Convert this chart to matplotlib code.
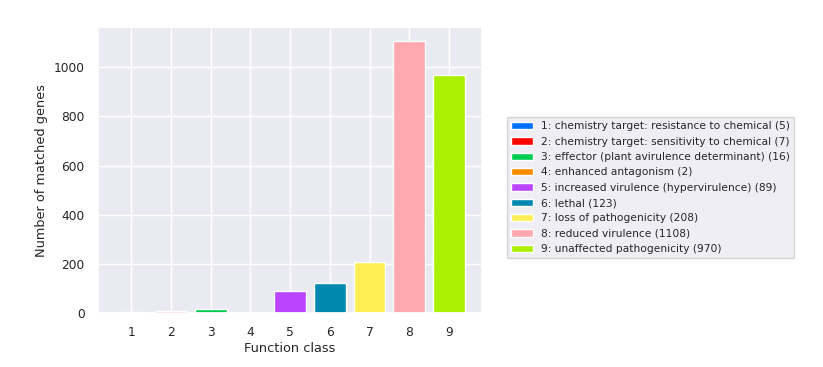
import matplotlib
matplotlib.use("Agg")
import matplotlib.pyplot as plt
import matplotlib.patches as mpatches
import seaborn as sns

classes = ["1", "2", "3", "4", "5", "6", "7", "8", "9"]
counts = [5, 7, 16, 2, 89, 123, 208, 1108, 970]
names = [
    "chemistry target: resistance to chemical",
    "chemistry target: sensitivity to chemical",
    "effector (plant avirulence determinant)",
    "enhanced antagonism",
    "increased virulence (hypervirulence)",
    "lethal",
    "loss of pathogenicity",
    "reduced virulence",
    "unaffected pathogenicity",
]
colors = ["#0070ff", "#ff0000", "#00cc50", "#ff8c00", "#bb44ff",
          "#0088b0", "#ffee55", "#ffa8b0", "#aaf000"]

sns.set_theme(style="darkgrid")
plt.rcParams['font.family'] = ['DejaVu Sans']

fig = plt.figure(figsize=(8.23, 3.67), dpi=100)
ax = fig.add_axes([0.119, 0.147, 0.467, 0.779])
x = list(range(1, len(classes) + 1))
ax.bar(x, counts, color=colors, edgecolor="white", linewidth=1.0, width=0.8)
ax.set_xticks(x)
ax.set_xticklabels(classes, fontsize=8.8)
ax.tick_params(axis='y', labelsize=8.8)
ax.set_xlabel("Function class", fontsize=9.3, labelpad=2)
ax.set_ylabel("Number of matched genes", fontsize=9.3)

handles = [mpatches.Patch(facecolor=c, edgecolor="white") for c in colors]
labels = [f"{c}: {n} ({v})" for c, n, v in zip(classes, names, counts)]
fig.legend(handles, labels, loc="upper left", bbox_to_anchor=(0.616, 0.681),
           borderaxespad=0, fontsize=7.7, frameon=True, handlelength=2.0)

fig.savefig("out.png", dpi=100)
